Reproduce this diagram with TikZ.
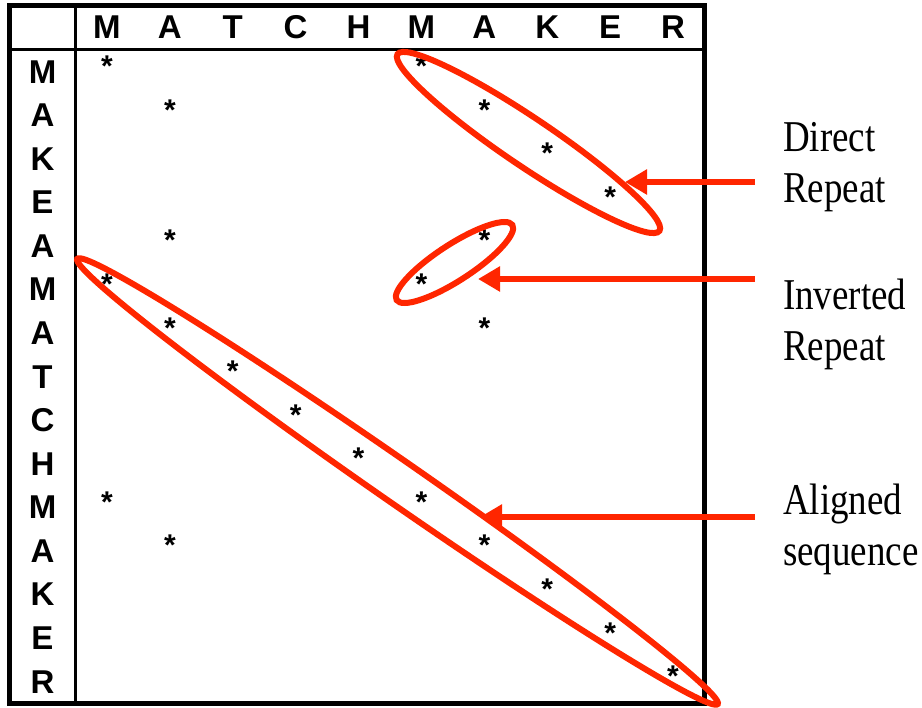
\documentclass[tikz,border=0pt]{standalone}
\usepackage{fontspec}
\usepackage{tikz}
\usetikzlibrary{arrows.meta}
\setmainfont{Liberation Serif}
\newfontfamily\gridfont{Liberation Sans}
\newfontfamily\notefont[FakeStretch=0.84]{Liberation Serif}
\definecolor{loopred}{RGB}{255,38,0}

\begin{document}
\begin{tikzpicture}[x=1pt,y=-1pt,
  letter/.style={font=\gridfont\bfseries\fontsize{33}{33}\selectfont,inner sep=0pt},
  hit/.style={font=\gridfont\bfseries\fontsize{30}{30}\selectfont,inner sep=0pt},
  note/.style={font=\notefont\fontsize{44}{51}\selectfont,align=left,anchor=north west,inner sep=0pt},
  ringline/.style={draw=loopred,line width=6pt},
  pointer/.style={draw=loopred,line width=5.5pt,-{Triangle[length=22pt,width=24pt]}}]
  \useasboundingbox (0,0) rectangle (922,708);

  % table frame
  \coordinate (nw) at (9,5.5);
  \coordinate (se) at (704.5,703.5);
  \draw[line width=5pt] (nw) rectangle (se);
  \draw[line width=2.5pt] (75.5,5.5) -- (75.5,703.5);
  \draw[line width=3pt] (9,50) -- (704.5,50);

  % sequences along the top and down the side
  \foreach \c [count=\i] in {M,A,T,C,H,M,A,K,E,R}
    \node[letter] (col\i) at ({75.5+62.9*(\i-0.5)},27.5) {\c};
  \foreach \r [count=\j] in {M,A,K,E,A,M,A,T,C,H,M,A,K,E,R}
    \node[letter] (row\j) at (42.5,{50+43.57*(\j-0.5)}) {\r};

  % a star wherever the letters agree
  \foreach \r [count=\j] in {M,A,K,E,A,M,A,T,C,H,M,A,K,E,R}
    \foreach \c [count=\i] in {M,A,T,C,H,M,A,K,E,R}
      {\ifx\r\c \node[hit] (hit-\j-\i) at (col\i |- row\j) [yshift=5.5pt] {*}; \fi}

  % rings round the diagonals
  \coordinate (dc) at (528.5,142.5);
  \coordinate (ic) at (454.5,262.5);
  \coordinate (ac) at (397.5,481.5);
  \draw[ringline,rotate around={-34:(dc)}] (dc) ellipse [x radius=158pt,y radius=24pt];
  \draw[ringline,rotate around={33:(ic)}] (ic) ellipse [x radius=69pt,y radius=18pt];
  \draw[ringline,rotate around={-34.8:(ac)}] (ac) ellipse [x radius=390pt,y radius=21pt];

  % notes and pointers
  \node[note] (direct) at (783,122) {Direct\\Repeat};
  \node[note] (inverted) at (783,279) {Inverted\\Repeat};
  \node[note] (aligned) at (783,484) {Aligned\\sequence};
  \coordinate (dtip) at (625,182);
  \coordinate (itip) at (478,279);
  \coordinate (atip) at (480,517);
  \draw[pointer,shorten <=28pt] (direct.west |- dtip) -- (dtip);
  \draw[pointer,shorten <=28pt] (inverted.west |- itip) -- (itip);
  \draw[pointer,shorten <=28pt] (aligned.west |- atip) -- (atip);
\end{tikzpicture}
\end{document}
